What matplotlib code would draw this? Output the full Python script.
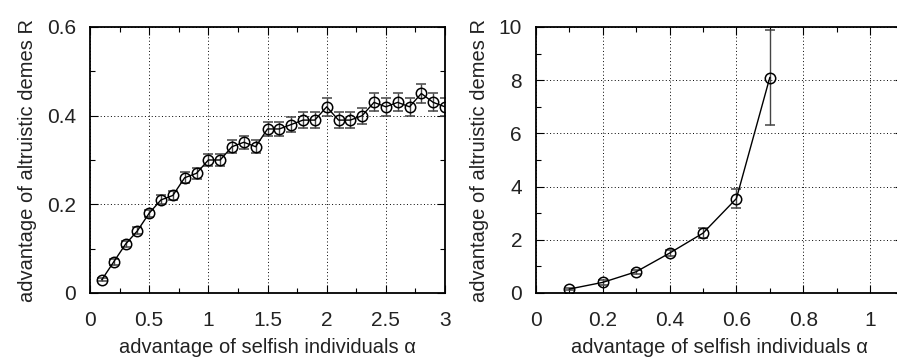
import numpy as np
import matplotlib
matplotlib.use('Agg')
import matplotlib.pyplot as plt

plt.rcParams['font.family'] = ['Liberation Sans', 'DejaVu Sans']

# left panel: R vs alpha (0.1 .. 3.0)
alpha_left = [0.1, 0.2, 0.3, 0.4, 0.5, 0.6, 0.7, 0.8, 0.9, 1.0,
              1.1, 1.2, 1.3, 1.4, 1.5, 1.6, 1.7, 1.8, 1.9, 2.0,
              2.1, 2.2, 2.3, 2.4, 2.5, 2.6, 2.7, 2.8, 2.9, 3.0]
R_left = [0.03, 0.07, 0.11, 0.14, 0.18, 0.21, 0.22, 0.26, 0.27, 0.30,
          0.30, 0.33, 0.34, 0.33, 0.37, 0.37, 0.38, 0.39, 0.39, 0.42,
          0.39, 0.39, 0.40, 0.43, 0.42, 0.43, 0.42, 0.45, 0.43, 0.42]
err_left = [0.004, 0.006, 0.007, 0.008, 0.008, 0.010, 0.010, 0.012, 0.012, 0.013,
            0.013, 0.014, 0.015, 0.015, 0.016, 0.016, 0.017, 0.018, 0.018, 0.020,
            0.018, 0.018, 0.018, 0.020, 0.020, 0.020, 0.020, 0.022, 0.020, 0.020]

# right panel: R vs alpha (0.1 .. 0.7)
alpha_right = [0.1, 0.2, 0.3, 0.4, 0.5, 0.6, 0.7]
R_right = [0.15, 0.4, 0.8, 1.5, 2.25, 3.55, 8.1]
err_right = [0.05, 0.1, 0.08, 0.1, 0.2, 0.35, 1.77]

left_xticks = [0, 0.5, 1, 1.5, 2, 2.5, 3]
left_xlabels = ['0', '0.5', '1', '1.5', '2', '2.5', '3']
left_yticks = [0, 0.2, 0.4, 0.6]
left_ylabels = ['0', '0.2', '0.4', '0.6']
right_xticks = [0, 0.2, 0.4, 0.6, 0.8, 1.0]
right_xlabels = ['0', '0.2', '0.4', '0.6', '0.8', '1']
right_yticks = [0, 2, 4, 6, 8, 10]
right_ylabels = ['0', '2', '4', '6', '8', '10']

fig = plt.figure(figsize=(8.97, 3.58), dpi=100)
ax1 = fig.add_axes([90/897, 1-293/358, 355/897, 266/358])
ax2 = fig.add_axes([536/897, 1-293/358, 367.4/897, 266/358])

def style(ax):
    ax.grid(True, color='black', linestyle=(0, (1, 2.5)), linewidth=0.7)
    ax.set_axisbelow(True)
    ax.tick_params(which='both', direction='in', top=True, right=True,
                   labelsize=15, width=0.8, colors='black', labelcolor='#222222')
    ax.tick_params(axis='y', which='both', pad=10)
    ax.tick_params(axis='x', which='both', pad=13)
    ax.tick_params(which='major', length=6)
    ax.tick_params(which='minor', length=3.5)
    for s in ax.spines.values():
        s.set_linewidth(1.3)
    ax.set_xlabel('advantage of selfish individuals α', fontsize=14.5,
                  labelpad=6, color='#222222')
    ax.set_ylabel('advantage of altruistic demes R', fontsize=14.5,
                  labelpad=7, color='#222222')

for ax, x, y, e in [(ax1, alpha_left, R_left, err_left),
                    (ax2, alpha_right, R_right, err_right)]:
    ax.errorbar(x, y, yerr=e, fmt='-o', color='black', ecolor='#444444',
                elinewidth=1.0, capsize=3.5, capthick=1.0, linewidth=1.0,
                markersize=7.5, markerfacecolor='none', markeredgewidth=1.1)
    style(ax)

ax1.set_xlim(0, 3)
ax1.set_ylim(0, 0.6)
ax1.set_xticks(left_xticks)
ax1.set_xticklabels(left_xlabels)
ax1.set_xticks(np.arange(0.25, 3, 0.5), minor=True)
ax1.set_yticks(left_yticks)
ax1.set_yticklabels(left_ylabels)
ax1.set_yticks([0.1, 0.3, 0.5], minor=True)

ax2.set_xlim(0, 1.1)
ax2.set_ylim(0, 10)
ax2.set_xticks(right_xticks)
ax2.set_xticklabels(right_xlabels)
ax2.set_xticks([0.1, 0.3, 0.5, 0.7, 0.9], minor=True)
ax2.set_yticks(right_yticks)
ax2.set_yticklabels(right_ylabels)
ax2.set_yticks([1, 3, 5, 7, 9], minor=True)

fig.savefig('out.png', dpi=100)
